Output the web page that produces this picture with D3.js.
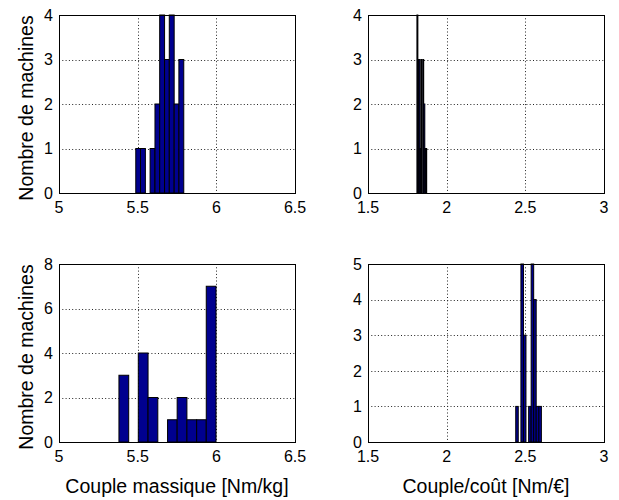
<!DOCTYPE html>
<html>
<head>
<meta charset="utf-8">
<script src="https://cdn.jsdelivr.net/npm/d3@7"></script>
<style>
	body { margin: 0; background: #fff; }
	text { font-family: "Liberation Sans", Arial, sans-serif; fill: #000; }
</style>
</head>
<body>
<div id="chart"></div>
<script>

// --------------------------------------------------------
// Histogram data (bin edges + counts per panel)

var edges_tl 	= [ 5.488, 5.518, 5.549, 5.579, 5.610, 5.640, 5.671, 5.701, 5.732, 5.762, 5.793 ];
var counts_tl 	= [ 1, 1, 0, 1, 2, 4, 3, 4, 2, 3 ];

var edges_tr 	= [ 1.811, 1.817, 1.823, 1.830, 1.836, 1.842, 1.848, 1.854, 1.861, 1.867, 1.873 ];
var counts_tr 	= [ 4, 3, 3, 1, 3, 0, 3, 2, 1, 1 ];

var edges_bl 	= [ 5.381, 5.443, 5.504, 5.566, 5.628, 5.690, 5.751, 5.813, 5.875, 5.936, 5.998 ];
var counts_bl 	= [ 3, 0, 4, 2, 0, 1, 2, 1, 1, 7 ];

var edges_br 	= [ 2.439, 2.455, 2.472, 2.488, 2.504, 2.521, 2.537, 2.553, 2.569, 2.586, 2.602 ];
var counts_br 	= [ 1, 0, 5, 3, 0, 1, 5, 4, 1, 1 ];

// axis ticks
var x_ticks_left 	= [ 5, 5.5, 6, 6.5 ];
var x_ticks_right 	= [ 1.5, 2, 2.5, 3 ];
var y_ticks_4 		= [ 0, 1, 2, 3, 4 ];
var y_ticks_8 		= [ 0, 2, 4, 6, 8 ];
var y_ticks_5 		= [ 0, 1, 2, 3, 4, 5 ];

var y_label 		= "Nombre de machines";
var x_label_left 	= "Couple massique [Nm/kg]";
var x_label_right 	= "Couple/coût [Nm/€]";

// --------------------------------------------------------

// Chart size parameters
var chart_width 	= 619;
var chart_height 	= 500;
var panel_w 		= 236;
var panel_h 		= 178;
var col_x 			= [ 59, 368 ];
var row_y 			= [ 15, 264 ];

var bar_fill 		= "#00008f";

var svg = d3.select("#chart")
	.append("svg")
	.attr("width", chart_width)
	.attr("height", chart_height);

// --------------------------------------------------------

function drawPanel(px, py, edges, counts, x_ticks, y_ticks, ylab, xlab) {

	var x_scale = d3.scaleLinear()
		.domain([ x_ticks[0], x_ticks[x_ticks.length - 1] ])
		.range([ px, px + panel_w ]);

	var y_scale = d3.scaleLinear()
		.domain([ 0, y_ticks[y_ticks.length - 1] ])
		.range([ py + panel_h, py ]);

	var g = svg.append("g");

	// dotted grid (inner ticks only)
	g.selectAll(".gx")
		.data(x_ticks.slice(1, -1))
		.enter()
		.append("line")
		.attr("x1", (d) => Math.round(x_scale(d)) + 0.5)
		.attr("x2", (d) => Math.round(x_scale(d)) + 0.5)
		.attr("y1", py)
		.attr("y2", py + panel_h)
		.attr("stroke", "#222")
		.attr("stroke-dasharray", "1,2.3");

	g.selectAll(".gy")
		.data(y_ticks.slice(1, -1))
		.enter()
		.append("line")
		.attr("y1", (d) => Math.round(y_scale(d)) + 0.5)
		.attr("y2", (d) => Math.round(y_scale(d)) + 0.5)
		.attr("x1", px)
		.attr("x2", px + panel_w)
		.attr("stroke", "#222")
		.attr("stroke-dasharray", "1,2.3");

	// bars
	var bins = counts.map((c, i) => ({ x0: edges[i], x1: edges[i + 1], n: c }))
		.filter((d) => d.n > 0);

	g.selectAll("rect.bar")
		.data(bins)
		.enter()
		.append("rect")
		.attr("class", "bar")
		.attr("x", (d) => x_scale(d.x0))
		.attr("width", (d) => x_scale(d.x1) - x_scale(d.x0))
		.attr("y", (d) => y_scale(d.n))
		.attr("height", (d) => y_scale(0) - y_scale(d.n))
		.attr("fill", bar_fill)
		.attr("stroke", "#000")
		.attr("stroke-width", 1);

	// box
	g.append("rect")
		.attr("x", px + 0.5)
		.attr("y", py + 0.5)
		.attr("width", panel_w)
		.attr("height", panel_h)
		.attr("fill", "none")
		.attr("stroke", "#000");

	// tick labels
	g.selectAll(".tx")
		.data(x_ticks)
		.enter()
		.append("text")
		.attr("x", (d) => x_scale(d))
		.attr("y", py + panel_h + 20)
		.attr("text-anchor", "middle")
		.style("font-size", "16px")
		.text((d) => d);

	g.selectAll(".ty")
		.data(y_ticks)
		.enter()
		.append("text")
		.attr("x", px - 6)
		.attr("y", (d) => y_scale(d))
		.attr("dy", "0.36em")
		.attr("text-anchor", "end")
		.style("font-size", "16px")
		.text((d) => d);

	// axis titles
	if (ylab) {
		g.append("text")
			.attr("transform", "translate(" + (px - 26) + "," + (py + panel_h / 2 + 4) + ") rotate(-90)")
			.attr("text-anchor", "middle")
			.style("font-size", "19.5px")
			.text(ylab);
	}
	if (xlab) {
		g.append("text")
			.attr("x", px + panel_w / 2)
			.attr("y", py + panel_h + 51)
			.attr("text-anchor", "middle")
			.style("font-size", "19.5px")
			.text(xlab);
	}
}

// --------------------------------------------------------

drawPanel(col_x[0], row_y[0], edges_tl, counts_tl, x_ticks_left, y_ticks_4, y_label, null);
drawPanel(col_x[1], row_y[0], edges_tr, counts_tr, x_ticks_right, y_ticks_4, null, null);
drawPanel(col_x[0], row_y[1], edges_bl, counts_bl, x_ticks_left, y_ticks_8, y_label, x_label_left);
drawPanel(col_x[1], row_y[1], edges_br, counts_br, x_ticks_right, y_ticks_5, null, x_label_right);

</script>
</body>
</html>
